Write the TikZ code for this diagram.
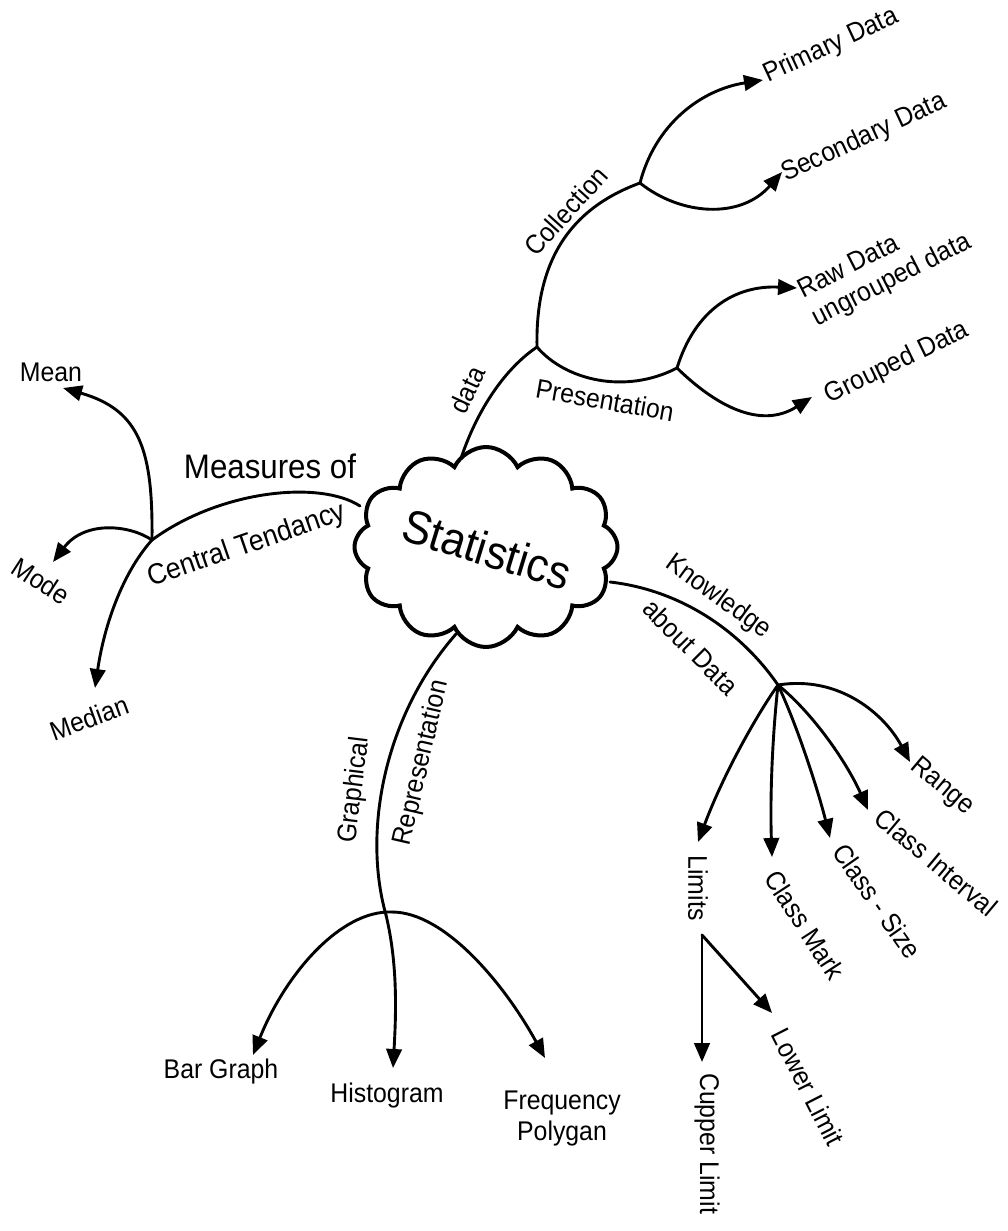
\documentclass[tikz,border=0pt]{standalone}
\usepackage{fontspec}
\setmainfont[FakeStretch=0.92]{Liberation Sans}
\usetikzlibrary{arrows.meta,shapes.symbols}
\begin{document}
\begin{tikzpicture}[x=1pt,y=-1pt,
  conn/.style={line width=2.9pt, line cap=round},
  arr/.style={conn, -{Triangle[length=19pt,width=15.5pt]}},
  lab/.style={font=\fontsize{27}{31}\selectfont, inner sep=0pt},
  biglab/.style={font=\fontsize{34}{38}\selectfont, inner sep=0pt},
  cloudbox/.style={cloud, draw, fill=white, line width=4pt, cloud puffs=12,
    cloud puff arc=130, minimum width=263pt, minimum height=200pt, inner sep=0pt},
]
\useasboundingbox (0,0) rectangle (1007,1231);

% branch points and start points
\coordinate (sdata) at (458,468);
\coordinate (smeas) at (360,506);
\coordinate (skd) at (610,582);
\coordinate (sgr) at (456,634);
\coordinate (bdata) at (537,347);
\coordinate (bcoll) at (640,183);
\coordinate (bpres) at (677,368);
\coordinate (bct) at (152,540);
\coordinate (bkd) at (778,685);
\coordinate (blim) at (702,935);
\coordinate (gapex) at (392,912);
\coordinate (gcross) at (386,915);

% arrow tips
\coordinate (primtip) at (763,80);
\coordinate (sectip) at (782,172);
\coordinate (rawtip) at (797,288);
\coordinate (grptip) at (812,397);
\coordinate (meantip) at (63,388);
\coordinate (modetip) at (53,562);
\coordinate (medtip) at (95,688);
\coordinate (rangetip) at (910,762);
\coordinate (citip) at (868,810);
\coordinate (cstip) at (830,838);
\coordinate (cmtip) at (772,857);
\coordinate (limtip) at (698,842);
\coordinate (cuptip) at (702,1062);
\coordinate (lowtip) at (772,1013);
\coordinate (bartip) at (253,1055);
\coordinate (histtip) at (393,1068);
\coordinate (freqtip) at (545,1058);

% connectors
\draw[conn] (sdata) .. controls (472,420) and (500,372) .. (bdata);
\draw[conn] (bdata) .. controls (535,250) and (580,205) .. (bcoll);
\draw[arr] (bcoll) .. controls (655,125) and (700,90) .. (primtip);
\draw[arr] (bcoll) .. controls (680,215) and (740,220) .. (sectip);
\draw[conn] (bdata) .. controls (565,380) and (625,395) .. (bpres);
\draw[arr] (bpres) .. controls (695,310) and (735,285) .. (rawtip);
\draw[arr] (bpres) .. controls (715,405) and (760,430) .. (grptip);

\draw[conn] (smeas) .. controls (320,480) and (220,490) .. (bct);
\draw[arr] (bct) .. controls (153,450) and (140,410) .. (meantip);
\draw[arr] (bct) .. controls (130,525) and (85,520) .. (modetip);
\draw[arr] (bct) .. controls (125,570) and (105,620) .. (medtip);

\draw[conn] (skd) .. controls (680,590) and (740,630) .. (bkd);
\draw[arr] (bkd) .. controls (840,675) and (885,715) .. (rangetip);
\draw[arr] (bkd) .. controls (815,715) and (848,765) .. (citip);
\draw[arr] (bkd) .. controls (797,725) and (818,790) .. (cstip);
\draw[arr] (bkd) .. controls (772,740) and (770,800) .. (cmtip);
\draw[arr] (bkd) .. controls (760,710) and (725,770) .. (limtip);
\draw[arr] (blim) -- (cuptip);
\draw[arr] (blim) -- (lowtip);

\draw[conn] (sgr) .. controls (385,715) and (362,830) .. (gcross);
\draw[arr] (gcross) .. controls (398,965) and (396,1015) .. (histtip);
\draw[arr] (gapex) .. controls (340,910) and (285,975) .. (bartip);
\draw[arr] (gapex) .. controls (445,912) and (505,985) .. (freqtip);

% central cloud
\node[cloudbox] (stat) at (486,547) {};
\node[font=\fontsize{47}{50}\selectfont, inner sep=0pt, rotate=-17] (stattxt) at (487,549) {Statistics};

% labels
\node[lab, rotate=65] (ldata) at (467,390) {data};
\node[lab, rotate=48] (lcoll) at (566,211) {Collection};
\node[lab, rotate=-10] (lpres) at (605,400) {Presentation};
\node[lab, rotate=25] (prim) at (831,46) {Primary Data};
\node[lab, rotate=25] (sec) at (864,138) {Secondary Data};
\node[lab, rotate=27, align=left] (raw) at (885,267) {Raw Data\\ungrouped data};
\node[lab, rotate=26] (grp) at (897,363) {Grouped Data};

\node[biglab] (lmeas) at (270,466) {Measures of};
\node[lab, font=\fontsize{29}{33}\selectfont, rotate=19] (lct) at (247,546) {Central Tendancy};
\node[lab] (mean) at (51,372) {Mean};
\node[lab, rotate=-33] (mode) at (41,581) {Mode};
\node[lab, rotate=20] (median) at (89,718) {Median};

\node[lab, rotate=-36] (lknow) at (718,597) {Knowledge};
\node[lab, rotate=-45] (labout) at (691,647) {about Data};
\node[lab, rotate=-40] (range) at (942,787) {Range};
\node[lab, rotate=-40] (ci) at (936,862) {Class Interval};
\node[lab, rotate=-55] (cs) at (877,901) {Class - Size};
\node[lab, rotate=-57] (cm) at (805,925) {Class Mark};
\node[lab, rotate=-90] (lim) at (698,888) {Limits};
\node[lab, rotate=-90, anchor=west] (cup) at (707,1073) {Cupper Limit};
\node[lab, rotate=-63] (low) at (808,1087) {Lower Limit};

\node[lab, rotate=83] (lgraph) at (355,790) {Graphical};
\node[lab, rotate=77] (lrep) at (422,763) {Representation};
\node[lab] (bar) at (221,1072) {Bar Graph};
\node[lab] (hist) at (387,1096) {Histogram};
\node[lab, align=center] (freq) at (562,1118) {Frequency\\Polygan};
\end{tikzpicture}
\end{document}
